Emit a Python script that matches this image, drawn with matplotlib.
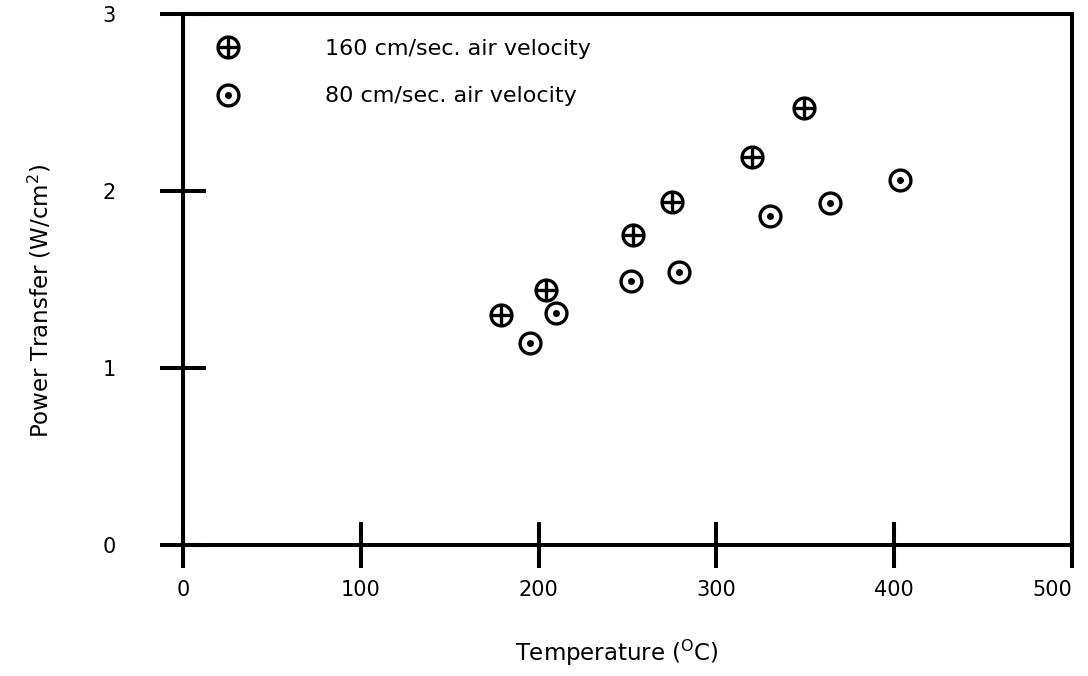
import matplotlib
matplotlib.use("Agg")
import matplotlib.pyplot as plt

plt.rcParams['font.family'] = ['DejaVu Sans']
plt.rcParams['mathtext.default'] = 'regular'

# measured points, temperature in deg C, power transfer in W/cm^2
temp_160 = [179, 204, 253, 275, 320, 349]
power_160 = [1.30, 1.44, 1.75, 1.94, 2.19, 2.47]

temp_80 = [195, 210, 252, 279, 330, 364, 403]
power_80 = [1.14, 1.31, 1.49, 1.54, 1.86, 1.93, 2.06]

labels = ['160 cm/sec. air velocity', '80 cm/sec. air velocity']

fig = plt.figure(figsize=(10.88, 6.76), dpi=100)
ax = fig.add_axes([0.1682, 0.1938, 0.8171, 0.7855])

ms = 15
mew = 2.4


def crossed(x, y, **kw):
    ax.plot(x, y, 'o', ms=ms, mfc='white', mec='black', mew=mew, ls='none', **kw)
    ax.plot(x, y, '+', ms=ms, mec='black', mew=mew, ls='none', **kw)


def dotted(x, y, **kw):
    ax.plot(x, y, 'o', ms=ms, mfc='white', mec='black', mew=mew, ls='none', **kw)
    ax.plot(x, y, 'o', ms=4, mfc='black', mec='black', ls='none', **kw)


crossed(temp_160, power_160)
dotted(temp_80, power_80)

# legend drawn by hand
crossed([0.051], [0.937], transform=ax.transAxes, clip_on=False)
dotted([0.051], [0.848], transform=ax.transAxes, clip_on=False)
ax.text(0.160, 0.935, labels[0], transform=ax.transAxes, fontsize=16, va='center')
ax.text(0.160, 0.846, labels[1], transform=ax.transAxes, fontsize=16, va='center')

ax.set_xlim(0, 500)
ax.set_ylim(0, 3)
ax.set_xticks([0, 100, 200, 300, 400, 500])
ax.set_yticks([0, 1, 2, 3])

for s in ax.spines.values():
    s.set_linewidth(2.9)
ax.tick_params(axis='both', direction='inout', length=33, width=2.9, labelsize=15)
ax.tick_params(axis='x', pad=9)
ax.tick_params(axis='y', pad=32)
ax.get_xticklabels()[-1].set_horizontalalignment('right')
ax.get_xticklabels()[-1].set_x(501)

ax.set_xlabel('Temperature ($^{O}$C)', fontsize=16.5)
ax.set_ylabel('Power Transfer (W/cm$^{2}$)', fontsize=16.5)
ax.xaxis.set_label_coords(0.488, -0.174)
ax.yaxis.set_label_coords(-0.146, 0.46)

fig.savefig('out.png', dpi=100)
